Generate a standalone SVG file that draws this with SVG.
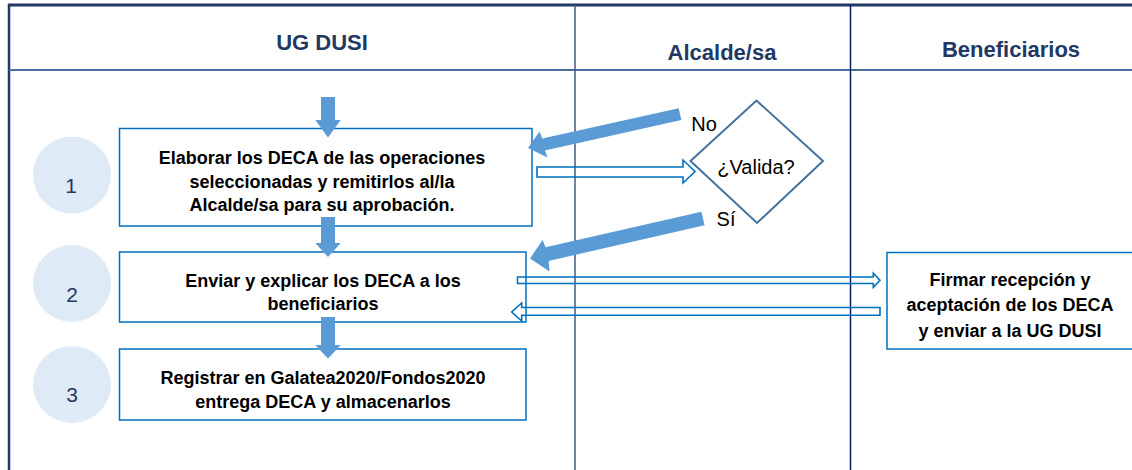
<svg xmlns="http://www.w3.org/2000/svg" width="1132" height="470" viewBox="0 0 1132 470">
<style>
.hdr{font-family:"Liberation Sans",Arial,sans-serif;font-size:22px;font-weight:bold;fill:#1F3864;text-anchor:middle}
.box{fill:#FFFFFF;stroke:#0070C0;stroke-width:1.5}
.bt{font-family:"Liberation Sans",Arial,sans-serif;font-size:18px;font-weight:bold;fill:#000000;text-anchor:middle}
.lbl{font-family:"Liberation Sans",Arial,sans-serif;font-size:20px;fill:#000000;text-anchor:middle}
.num{font-family:"Liberation Sans",Arial,sans-serif;font-size:21px;fill:#1F3864;text-anchor:middle}
.circ{fill:#DEEAF6}
.thick{fill:#5B9BD5}
.hollow{fill:none;stroke:#0070C0;stroke-width:1.6;stroke-linejoin:miter}
</style>
<rect x="0" y="0" width="1132" height="470" fill="#FFFFFF"/>
<g id="lanes">
<line x1="8" y1="5" x2="1132" y2="5" stroke="#1F3864" stroke-width="3"/>
<line x1="9" y1="4" x2="9" y2="470" stroke="#1F3864" stroke-width="2.5"/>
<line x1="9" y1="70" x2="1132" y2="70" stroke="#4F6D9A" stroke-width="2"/>
<line x1="575" y1="5" x2="575" y2="470" stroke="#44598A" stroke-width="1.5"/>
<line x1="850.5" y1="5" x2="850.5" y2="470" stroke="#002060" stroke-width="1.5"/>
<text class="hdr" x="322" y="50">UG DUSI</text>
<text class="hdr" x="722" y="60">Alcalde/sa</text>
<text class="hdr" x="1011" y="57">Beneficiarios</text>
</g>
<g id="step1">
<ellipse class="circ" cx="72" cy="175" rx="39" ry="38.5"/>
<text class="num" x="71" y="193">1</text>
</g>
<g id="step2">
<ellipse class="circ" cx="72" cy="283.5" rx="39" ry="38.5"/>
<text class="num" x="72" y="302">2</text>
</g>
<g id="step3">
<ellipse class="circ" cx="72" cy="384.5" rx="39" ry="38.5"/>
<text class="num" x="72" y="402">3</text>
</g>
<g id="box1">
<rect class="box" x="119.5" y="128.5" width="412.5" height="97.5"/>
<text class="bt" x="322" y="164">Elaborar los DECA de las operaciones</text>
<text class="bt" x="322" y="187.5">seleccionadas y remitirlos al/la</text>
<text class="bt" x="322" y="211">Alcalde/sa para su aprobación.</text>
</g>
<g id="box2">
<rect class="box" x="119.5" y="252" width="406.5" height="70"/>
<text class="bt" x="323" y="286.5">Enviar y explicar los DECA a los</text>
<text class="bt" x="323" y="310">beneficiarios</text>
</g>
<g id="box3">
<rect class="box" x="119.5" y="349" width="406.5" height="71"/>
<text class="bt" x="323" y="384">Registrar en Galatea2020/Fondos2020</text>
<text class="bt" x="323" y="408">entrega DECA y almacenarlos</text>
</g>
<g id="decision">
<polygon points="690.5,161 756.5,100.5 823,161 757,223" fill="#FFFFFF" stroke="#41719C" stroke-width="2"/>
<text class="lbl" x="756" y="174">¿Valida?</text>
</g>
<g id="box4">
<rect class="box" x="887" y="252.5" width="260" height="96.5"/>
<text class="bt" x="1010" y="285.5">Firmar recepción y</text>
<text class="bt" x="1010" y="311">aceptación de los DECA</text>
<text class="bt" x="1010" y="336.5">y enviar a la UG DUSI</text>
</g>
<g id="connectors">
<polygon class="thick" points="321,97 335,97 335,120 340.7,120 328,137.5 315.3,120 321,120"/>
<polygon class="thick" points="321,217 335,217 335,243 340.7,243 328,257 315.3,243 321,243"/>
<polygon class="thick" points="321,317 335,317 335,345 340.7,345 328,358.5 315.3,345 321,345"/>
<polygon class="thick" points="678.7,108.2 542.3,138.6 539.5,131.5 528,148 547.5,157.5 544.9,150.4 681.3,119.9"/>
<polygon class="thick" points="701.4,211.7 545.6,247.3 542.6,240 530,258.5 549.5,271.5 548.7,260.9 704.6,225.3"/>
<polygon class="hollow" points="537,167 683,167 683,160 695,171.5 683,183 683,177 537,177"/>
<polygon class="hollow" points="517.5,277 873.3,277 873.3,273.3 880,280.2 873.3,287.3 873.3,283.5 517.5,283.5"/>
<polygon class="hollow" points="880,307.5 521.7,307.5 521.7,303 511.7,312 521.7,321 521.7,315.2 880,315.2"/>
<text class="lbl" x="704" y="131">No</text>
<text class="lbl" x="726" y="226">Sí</text>
</g>
</svg>
